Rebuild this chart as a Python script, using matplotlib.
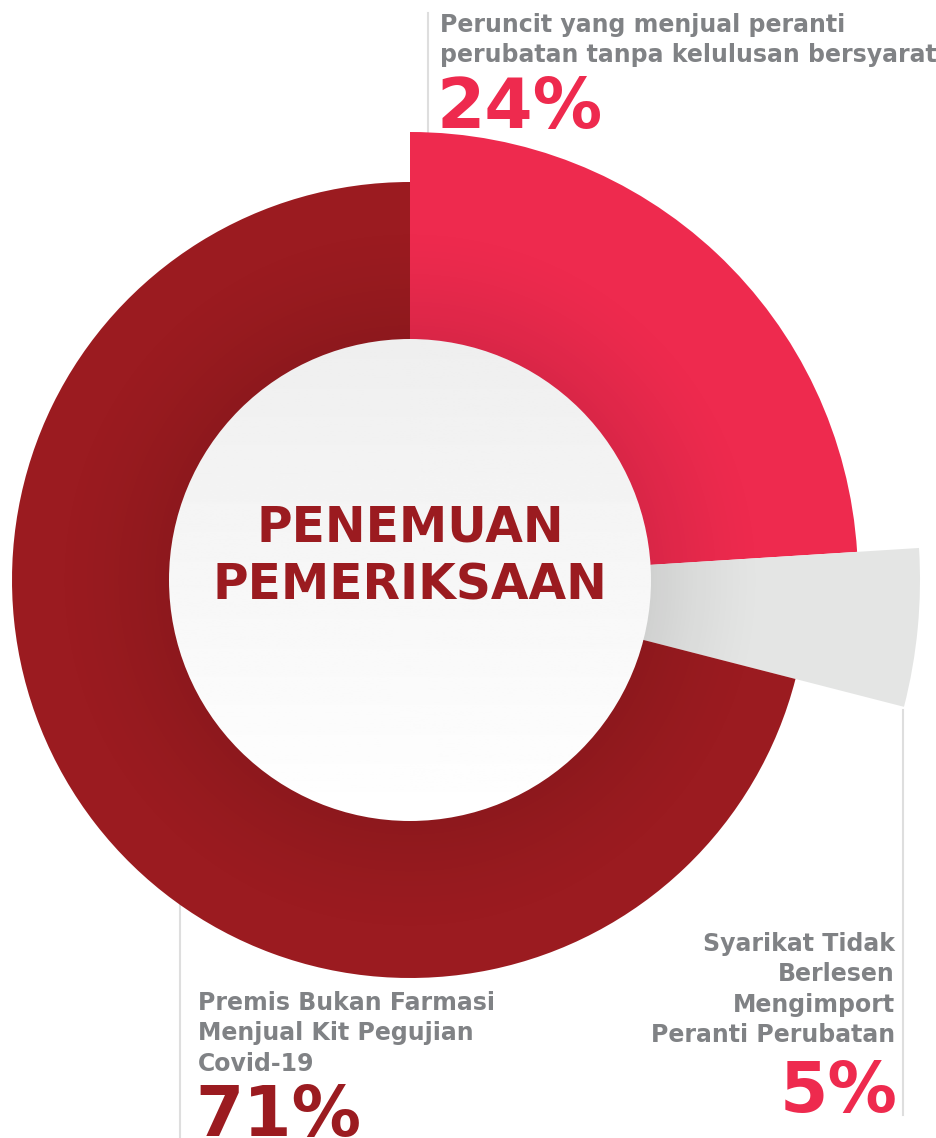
import numpy as np
import matplotlib.pyplot as plt
from matplotlib.patches import Circle

labels = [
    "Peruncit yang menjual peranti\nperubatan tanpa kelulusan bersyarat",
    "Syarikat Tidak\nBerlesen\nMengimport\nPeranti Perubatan",
    "Premis Bukan Farmasi\nMenjual Kit Pegujian\nCovid-19",
]
values = [24, 5, 71]
title_lines = ["PENEMUAN", "PEMERIKSAAN"]

# Styling
colors = ["#EE2A4E", "#E4E5E4", "#9B1B20"]
pct_colors = ["#EE2A4E", "#EE2A4E", "#9B1B20"]
radii = [448, 510, 398]
W, H = 936, 1138
cx, cy = 410, H - 580
hole = 241
grey_txt = "#808285"
line_col = "#DEDEDE"
font = "DejaVu Sans"

fig = plt.figure(figsize=(W / 100, H / 100), dpi=100)
ax = fig.add_axes([0, 0, 1, 1])

wedges, _ = ax.pie(values, colors=colors, startangle=90, counterclock=False,
                   center=(cx, cy), radius=400, wedgeprops=dict(linewidth=0))
for w, r in zip(wedges, radii):
    w.set_radius(r)

# soft shadow around the hole (radial alpha falloff)
ext = hole + 130
g = np.linspace(-ext, ext, 600)
xx, yy = np.meshgrid(g, g)
rr = np.hypot(xx, yy)
shade = np.zeros((600, 600, 4))
shade[..., 3] = 0.09 * np.clip(1 - (rr - hole) / 120, 0, 1) ** 1.5
ax.imshow(shade, extent=(cx - ext, cx + ext, cy - ext, cy + ext),
          origin="lower", zorder=2, interpolation="bilinear")

# white centre with a light vertical gradient
grad = np.linspace(1.0, 0.935, 256).reshape(-1, 1)
im = ax.imshow(grad, extent=(cx - hole, cx + hole, cy - hole, cy + hole),
               cmap="gray", vmin=0, vmax=1, origin="lower", zorder=3)
im.set_clip_path(Circle((cx, cy), hole, transform=ax.transData))

for k, t in enumerate(title_lines):
    ax.text(cx, H - (541 + k * 58), t, ha="center", va="baseline", fontsize=35,
            fontweight="bold", color="#9B1B20", family=font, zorder=4)

# leader lines
ax.plot([428, 428], [H - 13, H - 137], color=line_col, lw=1.5, zorder=0)
ax.plot([903, 903], [H - 710, H - 1115], color=line_col, lw=1.5, zorder=0)
ax.plot([180, 180], [H - 905, 0], color=line_col, lw=1.5, zorder=0)

# labels: (x, first baseline, align, number baseline)
spots = [(440, 32, "left", 128), (895, 951, "right", 1112), (198, 1010, "left", 1136)]
for lab, v, pc, (x, y0, ha, yn) in zip(labels, values, pct_colors, spots):
    for k, line in enumerate(lab.split("\n")):
        ax.text(x, H - (y0 + k * 30.3), line, ha=ha, va="baseline", fontsize=17,
                fontweight="bold", color=grey_txt, family=font, zorder=4)
    ax.text(x - 3 if ha == "left" else x + 3, H - yn, f"{v}%", ha=ha, va="baseline",
            fontsize=50, fontweight="bold", color=pc, family=font, zorder=4)

ax.set_xlim(0, W)
ax.set_ylim(0, H)
ax.set_aspect("equal")
ax.axis("off")

fig.savefig("out.png", dpi=100)
